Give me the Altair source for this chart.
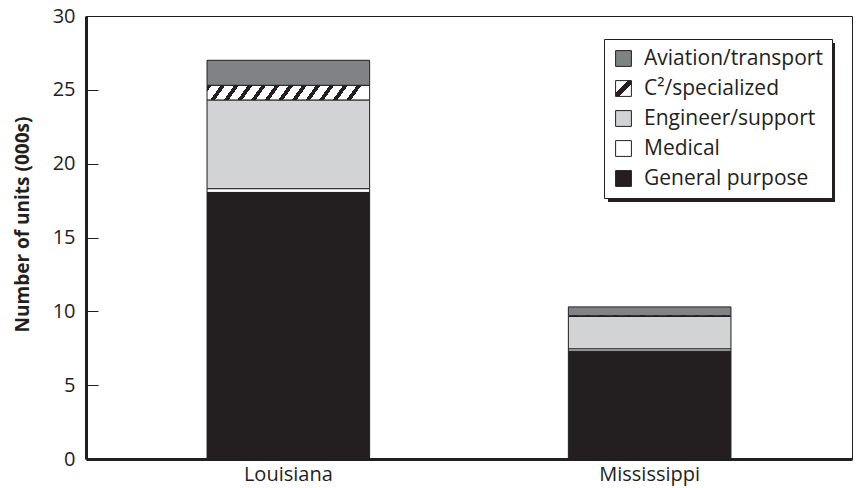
import altair as alt
import pandas as pd

states = ["Louisiana", "Mississippi"]
categories = ["Aviation/transport", "C²/specialized", "Engineer/support", "Medical", "General purpose"]
louisiana = [1.7, 1.0, 6.0, 0.25, 18.05]
mississippi = [0.6, 0.05, 2.2, 0.15, 7.3]
solid_colors = ["#808285", None, "#d1d3d4", "#ffffff", "#231f20"]

FONT = "Open Sans"
INK = "#231f20"

rows = []
for vals, st in ((louisiana, states[0]), (mississippi, states[1])):
    for i, (c, v) in enumerate(zip(categories, vals)):
        rows.append({"state": st, "category": c, "value": v, "order": len(categories) - i})
df = pd.DataFrame(rows)


def stripes(n, frac, color="#231f20"):
    stops = []
    for k in range(n):
        a = k / n
        b = (k + frac) / n
        stops.append("{offset:%.4f,color:'white'}" % a)
        stops.append("{offset:%.4f,color:'%s'}" % (a, color))
        stops.append("{offset:%.4f,color:'%s'}" % (b, color))
        stops.append("{offset:%.4f,color:'white'}" % b)
    stops.append("{offset:1,color:'white'}")
    return "[" + ",".join(stops) + "]"


bar_hatch = "{gradient:'linear',x1:0,y1:0,x2:1,y2:0.065,stops:%s}" % stripes(12, 0.34)
legend_hatch = ("{gradient:'linear',x1:0,y1:0,x2:1,y2:1,stops:["
                "{offset:0,color:'white'},{offset:0.4,color:'white'},"
                "{offset:0.4,color:'#231f20'},{offset:0.6,color:'#231f20'},"
                "{offset:0.6,color:'white'},{offset:1,color:'white'}]}")

bar_range = [c if c is not None else {"expr": bar_hatch} for c in solid_colors]
legend_range = [c if c is not None else {"expr": legend_hatch} for c in solid_colors]

W, H = 766, 443

x_enc = alt.X("state:N", sort=states, title=None,
              scale=alt.Scale(paddingInner=0.55, paddingOuter=0.335),
              axis=alt.Axis(labelAngle=0, ticks=False, domainWidth=3, domainColor=INK,
                            labelFont=FONT, labelFontSize=20, labelColor=INK, labelPadding=5))
y_enc = alt.Y("value:Q", stack="zero", title="Number of units (000s)",
              scale=alt.Scale(domain=[0, 30], nice=False),
              axis=alt.Axis(values=[0, 5, 10, 15, 20, 25, 30], ticks=False, domainWidth=3,
                            domainColor=INK, grid=True, gridDash=[12, 3000], gridColor=INK,
                            gridWidth=1, labelFont=FONT, labelFontSize=20, labelColor=INK,
                            labelPadding=11, labelFlush=False, titleFont=FONT, titleFontSize=19,
                            titleFontWeight="bold", titleColor=INK, titlePadding=20,
                            titleY=208))

bars = alt.Chart(df).mark_bar(stroke=INK, strokeWidth=1).encode(
    x=x_enc,
    y=y_enc,
    fill=alt.Fill("category:N", sort=categories,
                  scale=alt.Scale(domain=categories, range=bar_range), legend=None),
    order=alt.Order("order:Q", sort="ascending"),
)

keys = alt.Chart(df).mark_square(size=0, opacity=1, stroke=INK, strokeWidth=0).encode(
    x=alt.X("state:N", sort=states),
    y=alt.Y("value:Q"),
    fill=alt.Fill("category:N", sort=categories,
                  scale=alt.Scale(domain=categories, range=legend_range),
                  legend=alt.Legend(
                      title=None, orient="none", legendX=518, legendY=23,
                      labelFont=FONT, labelFontSize=21, labelColor=INK, labelLimit=400,
                      symbolType="square", symbolSize=250, symbolStrokeColor=INK,
                      symbolStrokeWidth=1, symbolOpacity=1, rowPadding=8, labelOffset=10,
                      padding=9, fillColor="white", strokeColor=INK)),
)

shadow = alt.Chart(pd.DataFrame({"k": [0]})).mark_rect(color=INK).encode(
    x=alt.value(522), x2=alt.value(749), y=alt.value(27), y2=alt.value(186)
)

chart = alt.layer(shadow, bars, keys).resolve_scale(fill="independent").properties(
    width=W, height=H,
    padding={"left": 78, "top": 8, "right": 4, "bottom": 29},
    autosize=alt.AutoSizeParams(type="none"),
).configure_view(stroke=INK, strokeWidth=1)

chart.save("out.html", embed_options={"renderer": "svg", "actions": False})
